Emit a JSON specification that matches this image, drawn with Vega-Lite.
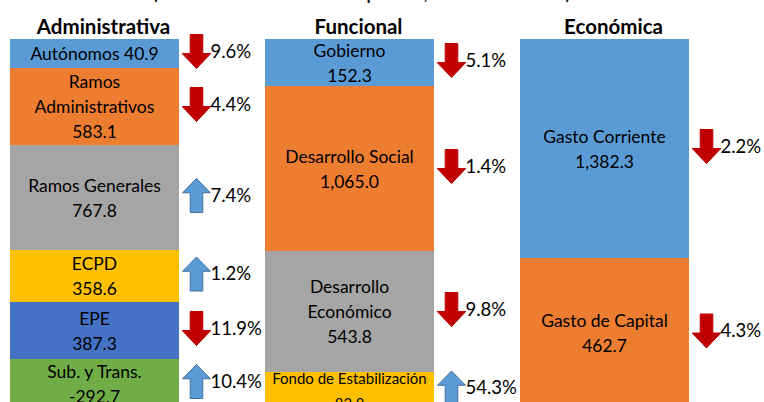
{
  "$schema": "https://vega.github.io/schema/vega-lite/v6.json",
  "width": 699,
  "height": 369,
  "autosize": {"type": "pad"},
  "padding": {"left": 0, "top": -19, "right": 0, "bottom": 0},
  "title": {"text": "(Miles de millones de pesos, variación real)", "fontSize": 22.7, "fontWeight": "normal", "font": "Lato", "color": "#000000", "anchor": "middle", "dx": 12, "offset": 13},
  "config": {"view": {"stroke": null}, "font": "Lato"},
  "data": {"values": [
    {"clasificacion": "Administrativa", "orden": 1, "etiqueta": "Autónomos 40.9", "monto": 40.9, "alto": 29, "variacion": 0.096, "sentido": "baja"},
    {"clasificacion": "Administrativa", "orden": 2, "etiqueta": "Ramos\nAdministrativos\n583.1", "monto": 583.1, "alto": 77, "variacion": 0.044, "sentido": "baja"},
    {"clasificacion": "Administrativa", "orden": 3, "etiqueta": "Ramos Generales\n767.8", "monto": 767.8, "alto": 105, "variacion": 0.074, "sentido": "alza"},
    {"clasificacion": "Administrativa", "orden": 4, "etiqueta": "ECPD\n358.6", "monto": 358.6, "alto": 52, "variacion": 0.012, "sentido": "alza"},
    {"clasificacion": "Administrativa", "orden": 5, "etiqueta": "EPE\n387.3", "monto": 387.3, "alto": 57, "variacion": 0.119, "sentido": "baja"},
    {"clasificacion": "Administrativa", "orden": 6, "etiqueta": "Sub. y Trans.\n-292.7", "monto": -292.7, "alto": 49, "variacion": 0.104, "sentido": "alza"},
    {"clasificacion": "Funcional", "orden": 1, "etiqueta": "Gobierno\n152.3", "monto": 152.3, "alto": 47, "variacion": 0.051, "sentido": "baja"},
    {"clasificacion": "Funcional", "orden": 2, "etiqueta": "Desarrollo Social\n1,065.0", "monto": 1065.0, "alto": 165, "variacion": 0.014, "sentido": "baja"},
    {"clasificacion": "Funcional", "orden": 3, "etiqueta": "Desarrollo\nEconómico\n543.8", "monto": 543.8, "alto": 121, "variacion": 0.098, "sentido": "baja"},
    {"clasificacion": "Funcional", "orden": 4, "etiqueta": "Fondo de Estabilización\n83.8", "monto": 83.8, "alto": 36, "variacion": 0.543, "sentido": "alza"},
    {"clasificacion": "Económica", "orden": 1, "etiqueta": "Gasto Corriente\n1,382.3", "monto": 1382.3, "alto": 219, "variacion": 0.022, "sentido": "baja"},
    {"clasificacion": "Económica", "orden": 2, "etiqueta": "Gasto de Capital\n462.7", "monto": 462.7, "alto": 150, "variacion": 0.043, "sentido": "baja"}
  ]},
  "encoding": {
    "x": {
      "field": "clasificacion", "type": "nominal",
      "sort": ["Administrativa", "Funcional", "Económica"],
      "scale": {"paddingInner": 0.3373, "paddingOuter": 0.0392},
      "axis": {"orient": "top", "title": null, "domain": false, "ticks": false, "labelFontSize": 20.5, "labelFontWeight": "bold", "labelColor": "#000000", "labelPadding": 6, "labelBaseline": "alphabetic", "labelOffset": 9, "labelAngle": 0, "labelFont": "Lato", "labelFlush": false, "labelBound": false, "labelOverlap": false}
    },
    "y": {"field": "alto", "type": "quantitative", "stack": "zero", "scale": {"domain": [0, 369], "reverse": true, "nice": false}, "axis": null},
    "order": {"field": "orden", "type": "quantitative"},
    "detail": {"field": "orden", "type": "nominal"}
  },
  "layer": [
    {
      "mark": {"type": "bar"},
      "encoding": {
        "color": {"field": "orden", "type": "nominal", "scale": {"domain": [1, 2, 3, 4, 5, 6], "range": ["#5B9BD5", "#ED7D31", "#A5A5A5", "#FFC000", "#4472C4", "#70AD47"]}, "legend": null}
      }
    },
    {
      "mark": {"type": "text", "lineBreak": "\n", "lineHeight": 25, "color": "#000000", "baseline": "middle", "align": "center", "dy": {"expr": "1.5 - (length(split(datum.etiqueta, '\\n')) - 1) * 12.5"}, "font": "Lato"},
      "encoding": {
        "y": {"field": "alto", "type": "quantitative", "stack": "zero", "bandPosition": 0.5},
        "text": {"field": "etiqueta", "type": "nominal"},
        "size": {"condition": {"test": "length(split(datum.etiqueta, '\\n')[0]) > 20", "value": 15}, "value": 17.5}
      }
    },
    {
      "mark": {"type": "point", "filled": true, "strokeWidth": 1, "opacity": 1, "size": 1156, "xOffset": 102, "yOffset": -2},
      "encoding": {
        "y": {"field": "alto", "type": "quantitative", "stack": "zero", "bandPosition": 0.5},
        "shape": {"field": "sentido", "type": "nominal", "scale": {"domain": ["baja", "alza"], "range": ["M-0.37,-1L0.37,-1L0.37,0.12L0.84,0.12L0,1L-0.84,0.12L-0.37,0.12Z", "M-0.37,1L0.37,1L0.37,-0.16L0.82,-0.16L0,-1L-0.82,-0.16L-0.37,-0.16Z"]}, "legend": null},
        "fill": {"field": "sentido", "type": "nominal", "scale": {"domain": ["baja", "alza"], "range": ["#C00000", "#5B9BD5"]}, "legend": null},
        "stroke": {"field": "sentido", "type": "nominal", "scale": {"domain": ["baja", "alza"], "range": ["#C00000", "#41719C"]}, "legend": null}
      }
    },
    {
      "mark": {"type": "text", "align": "left", "baseline": "middle", "dx": 116, "dy": -2, "fontSize": 18.5, "color": "#000000", "font": "Lato"},
      "encoding": {
        "y": {"field": "alto", "type": "quantitative", "stack": "zero", "bandPosition": 0.5},
        "text": {"field": "variacion", "type": "quantitative", "format": ".1%"}
      }
    }
  ]
}
